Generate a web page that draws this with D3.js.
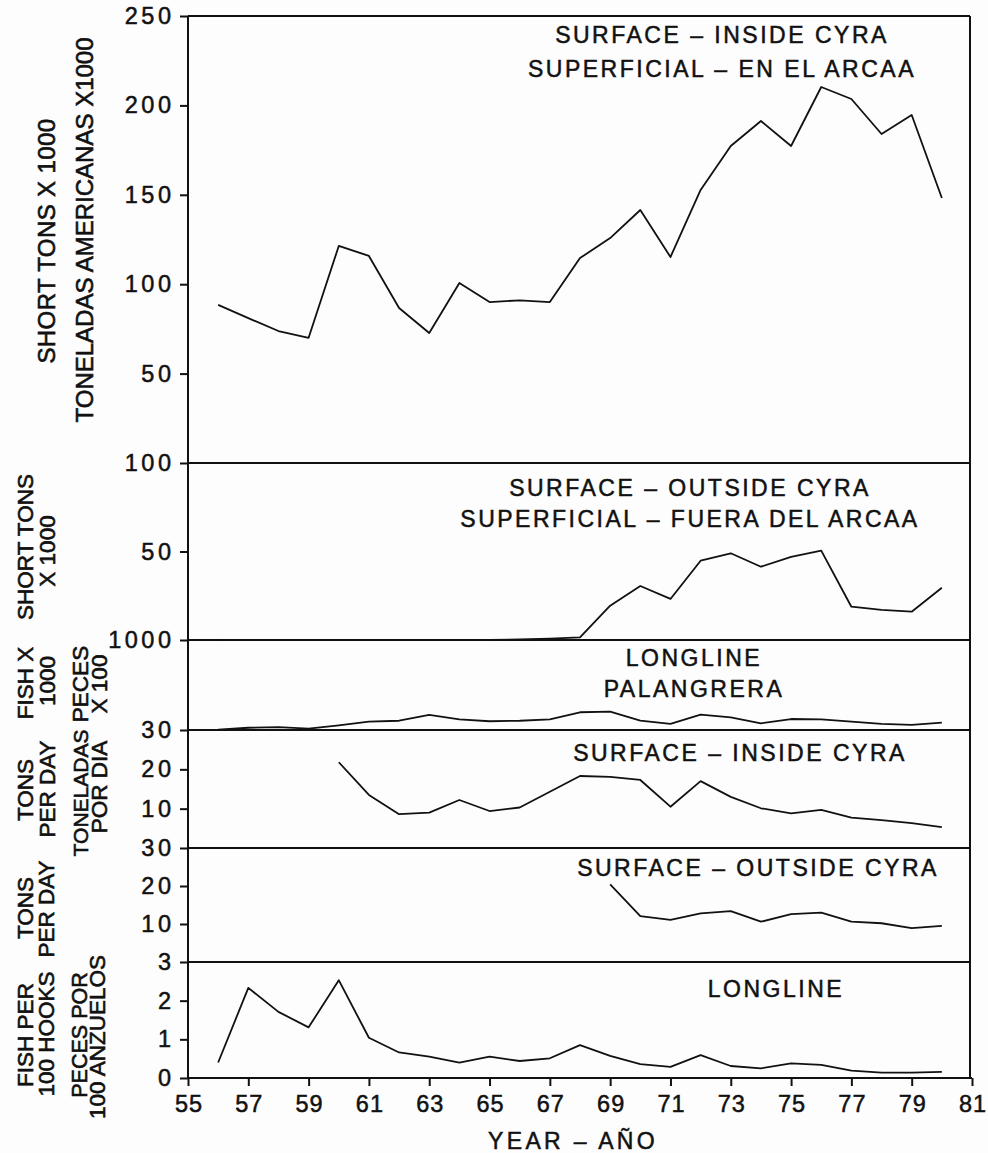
<!DOCTYPE html>
<html>
<head>
<meta charset="utf-8">
<script src="https://cdn.jsdelivr.net/npm/d3@7/dist/d3.min.js"></script>
<style>
  html, body { margin: 0; padding: 0; background: #fdfdfd; }
  svg { display: block; }
  text { font-family: "Liberation Sans", Arial, Helvetica, sans-serif; fill: #111; }
</style>
</head>
<body>
<svg id="chart" width="988" height="1153"></svg>
<script>
// Years 1956–1980 (two-digit labels as printed on the axis)
const yearsAll = [56, 57, 58, 59, 60, 61, 62, 63, 64, 65, 66, 67, 68, 69, 70, 71, 72, 73, 74, 75, 76, 77, 78, 79, 80];
const yearsInsideCpue = [60, 61, 62, 63, 64, 65, 66, 67, 68, 69, 70, 71, 72, 73, 74, 75, 76, 77, 78, 79, 80];
const yearsOutsideCpue = [69, 70, 71, 72, 73, 74, 75, 76, 77, 78, 79, 80];

// Catch, surface fishery inside CYRA (short tons x 1000)
const catchInside = [88.4, 81, 73.8, 70, 121.4, 115.8, 86.7, 72.7, 100.7, 90, 91, 90, 114.6, 125.8, 141.5, 115.2, 152.7, 177.3, 191.3, 177.3, 210.3, 203.6, 184, 194.6, 148.2];
// Catch, surface fishery outside CYRA (short tons x 1000)
const catchOutside = [0, 0, 0, 0, 0, 0, 0, 0, 0, 0, 0.3, 0.8, 1.5, 19.4, 30.5, 23.2, 44.8, 49, 41.4, 47, 50.5, 18.8, 17, 16, 29.5];
// Catch, longline fishery (fish x 1000)
const catchLongline = [3, 25, 33, 15, 52, 92, 103, 167, 119, 97, 103, 119, 197, 204, 103, 67, 170, 141, 74, 122, 119, 92, 67, 56, 81];
// Catch per day, surface inside CYRA (tons per day)
const cpueInside = [21.8, 13.5, 8.6, 9, 12.2, 9.4, 10.3, 14.3, 18.3, 18.1, 17.3, 10.5, 17, 13, 10.1, 8.8, 9.7, 7.7, 7.1, 6.3, 5.3];
// Catch per day, surface outside CYRA (tons per day)
const cpueOutside = [20.4, 12.1, 11.1, 12.8, 13.4, 10.6, 12.6, 13, 10.6, 10.2, 8.9, 9.5];
// Longline hook rate (fish per 100 hooks)
const hookRate = [0.4, 2.33, 1.71, 1.31, 2.53, 1.04, 0.66, 0.55, 0.4, 0.55, 0.44, 0.51, 0.85, 0.57, 0.36, 0.29, 0.59, 0.31, 0.25, 0.38, 0.34, 0.19, 0.14, 0.14, 0.16];

// Axis tick labels
const xTicks = [55, 57, 59, 61, 63, 65, 67, 69, 71, 73, 75, 77, 79, 81];
const ticksP1 = [50, 100, 150, 200, 250];
const ticksP2 = [50, 100];
const ticksP3 = [1000];
const ticksP4 = [10, 20, 30];
const ticksP5 = [10, 20, 30];
const ticksP6 = [0, 1, 2, 3];

// Panel titles
const titleP1 = ["SURFACE – INSIDE CYRA", "SUPERFICIAL – EN EL ARCAA"];
const titleP2 = ["SURFACE – OUTSIDE CYRA", "SUPERFICIAL – FUERA DEL ARCAA"];
const titleP3 = ["LONGLINE", "PALANGRERA"];
const titleP4 = ["SURFACE – INSIDE CYRA"];
const titleP5 = ["SURFACE – OUTSIDE CYRA"];
const titleP6 = ["LONGLINE"];

// ---- layout ----
const svg = d3.select("#chart");
const left = 188, right = 970;
const x = d3.scaleLinear().domain([55, 81]).range([left, 972]);
const ink = "#111";
const tickFont = 23.5, tickSpacing = 3.5;

const panels = [
  { top: 16,  bottom: 463,  max: 250,  ticks: ticksP1, xs: yearsAll,         ys: catchInside,
    title: titleP1, tx: 722, ty: [43, 77],
    labels: [["SHORT TONS X 1000", 55, 241, 24, 0.4], ["TONELADAS AMERICANAS X1000", 93, 230, 24, 0]] },
  { top: 463, bottom: 640,  max: 100,  ticks: ticksP2, xs: yearsAll,         ys: catchOutside,
    title: titleP2, tx: 690, ty: [496, 527],
    labels: [["SHORT TONS", 33, 547], ["X 1000", 55, 551]] },
  { top: 640, bottom: 730,  max: 1000, ticks: ticksP3, xs: yearsAll,         ys: catchLongline,
    title: titleP3, tx: 694, ty: [666, 697],
    labels: [["FISH X", 33, 683], ["1000", 55, 681], ["PECES", 88, 684], ["X 100", 107, 684]] },
  { top: 730, bottom: 848,  max: 30,   ticks: ticksP4, xs: yearsInsideCpue,  ys: cpueInside,
    title: titleP4, tx: 740, ty: [761],
    labels: [["TONS", 33, 790], ["PER DAY", 55, 789], ["TONELADAS", 88, 793, 21], ["POR DIA", 107, 787]] },
  { top: 848, bottom: 962,  max: 30,   ticks: ticksP5, xs: yearsOutsideCpue, ys: cpueOutside,
    title: titleP5, tx: 758, ty: [876],
    labels: [["TONS", 33, 908], ["PER DAY", 54, 909]] },
  { top: 962, bottom: 1078, max: 3,    ticks: ticksP6, xs: yearsAll,         ys: hookRate,
    title: titleP6, tx: 776, ty: [997],
    labels: [["FISH PER", 33, 1035], ["100 HOOKS", 54, 1034], ["PECES POR", 87, 1035, 21.5], ["100 ANZUELOS", 105, 1037]] }
];

const frame = svg.append("g");

panels.forEach(p => {
  const y = d3.scaleLinear().domain([0, p.max]).range([p.bottom, p.top]);

  // y axis with outward ticks
  const axis = d3.axisLeft(y).tickValues(p.ticks).tickSize(8)
    .tickPadding(9 - tickSpacing).tickFormat(d3.format("d"));
  const g = svg.append("g").attr("transform", `translate(${left},0)`).call(axis);
  g.select(".domain").remove();
  g.selectAll(".tick line").attr("stroke", ink).attr("stroke-width", 2);
  g.selectAll(".tick text")
    .attr("font-size", tickFont).attr("letter-spacing", tickSpacing)
    .attr("fill", ink).attr("stroke", ink).attr("stroke-width", 0.5)
    .attr("font-family", "'Liberation Sans', Arial, sans-serif");

  // horizontal rule at the top of each panel
  frame.append("line")
    .attr("x1", left).attr("x2", right)
    .attr("y1", p.top).attr("y2", p.top)
    .attr("stroke", ink).attr("stroke-width", 2);

  // series
  const line = d3.line().x(d => x(d[0])).y(d => y(d[1]));
  svg.append("path")
    .datum(p.xs.map((yr, i) => [yr, p.ys[i]]))
    .attr("d", line)
    .attr("fill", "none")
    .attr("stroke", ink)
    .attr("stroke-width", 1.8)
    .attr("stroke-linejoin", "round");

  // panel title
  p.title.forEach((t, i) => {
    svg.append("text")
      .attr("x", p.tx).attr("y", p.ty[i])
      .attr("text-anchor", "middle")
      .attr("font-size", 23).attr("letter-spacing", 2.5)
      .attr("stroke", ink).attr("stroke-width", 0.5)
      .text(t);
  });

  // rotated y labels
  p.labels.forEach(([t, bx, cy, size = 22.5, spacing = 0]) => {
    svg.append("text")
      .attr("transform", `translate(${bx},${cy}) rotate(-90)`)
      .attr("text-anchor", "middle")
      .attr("font-size", size).attr("letter-spacing", spacing)
      .attr("stroke", ink).attr("stroke-width", 0.6)
      .text(t);
  });
});

// outer frame: left axis, right border
frame.append("line").attr("x1", left).attr("x2", left).attr("y1", 16).attr("y2", 1078)
  .attr("stroke", ink).attr("stroke-width", 2);
frame.append("line").attr("x1", right).attr("x2", right).attr("y1", 16).attr("y2", 1078)
  .attr("stroke", ink).attr("stroke-width", 2);

// bottom axis
const xAxis = d3.axisBottom(x).tickValues(xTicks).tickSize(8).tickPadding(9).tickFormat(d3.format("d"));
const gx = svg.append("g").attr("transform", "translate(0,1078)").call(xAxis);
gx.select(".domain").attr("stroke", ink).attr("stroke-width", 2).attr("d", `M${left},0H972`);
gx.selectAll(".tick line").attr("stroke", ink).attr("stroke-width", 2);
gx.selectAll(".tick text")
  .attr("font-size", tickFont).attr("letter-spacing", 1).attr("dx", "0.5")
  .attr("fill", ink).attr("stroke", ink).attr("stroke-width", 0.5)
  .attr("font-family", "'Liberation Sans', Arial, sans-serif");

svg.append("text")
  .attr("x", 573).attr("y", 1149)
  .attr("text-anchor", "middle")
  .attr("font-size", 23).attr("letter-spacing", 3.3)
  .attr("stroke", ink).attr("stroke-width", 0.5)
  .text("YEAR – AÑO");
</script>
</body>
</html>
